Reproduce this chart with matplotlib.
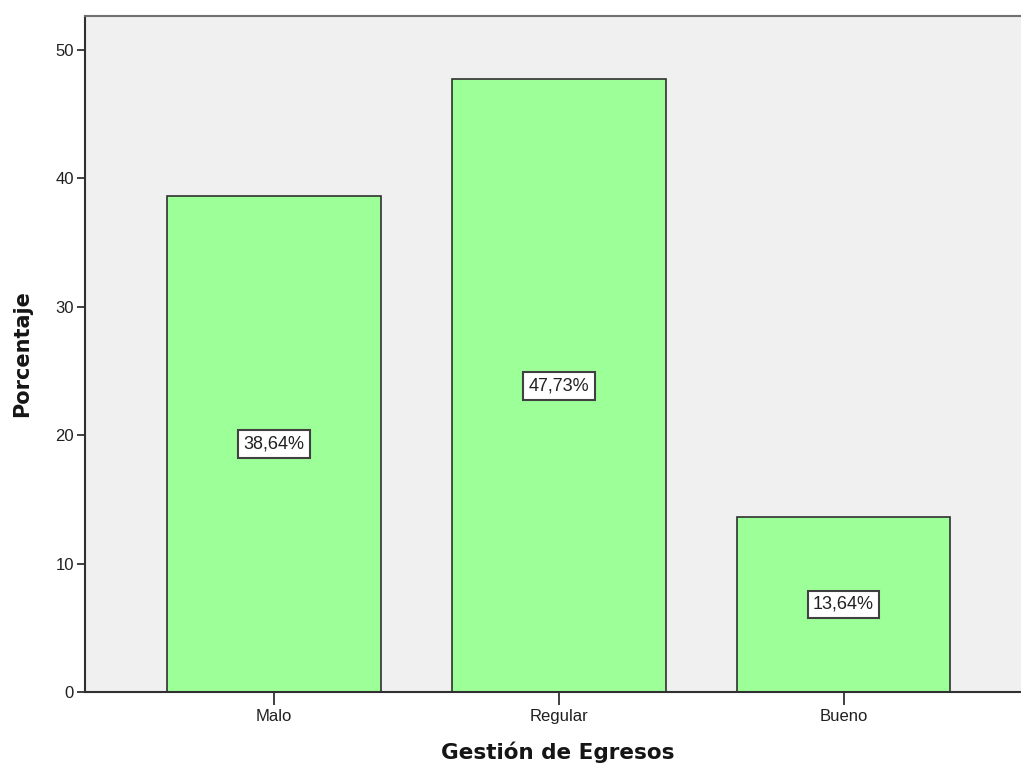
import matplotlib.pyplot as plt

# Gestión de Egresos - distribución porcentual
categorias = ["Malo", "Regular", "Bueno"]
porcentajes = [38.64, 47.73, 13.64]
etiquetas = ["38,64%", "47,73%", "13,64%"]

plt.rcParams['font.family'] = ['Liberation Sans', 'DejaVu Sans']

fig = plt.figure(figsize=(10.21, 7.67), dpi=100)
ax = fig.add_axes([85 / 1021, 75 / 767, 945 / 1021, 676 / 767])
ax.set_facecolor('#f0f0f0')

x = range(len(categorias))
ax.bar(x, porcentajes, width=0.75, color='#9cff98', edgecolor='#303030', linewidth=1.2, zorder=2)

# etiqueta de cada barra a media altura
for xi, val, txt in zip(x, porcentajes, etiquetas):
    ax.text(xi, val / 2, txt, ha='center', va='center', fontsize=13, color='#202020', zorder=3,
            bbox=dict(boxstyle='square,pad=0.3', facecolor='white', edgecolor='#404040', linewidth=1.5))

ax.set_xlim(-0.664, 2.655)
ax.set_ylim(0, 52.65)
ax.set_yticks([0, 10, 20, 30, 40, 50])
ax.set_xticks(list(x))
ax.set_xticklabels(categorias)
ax.tick_params(axis='y', direction='out', length=6, width=1.2, labelsize=12, colors='#202020', pad=2)
ax.tick_params(axis='x', direction='out', length=9, width=1.2, labelsize=12, colors='#202020', pad=3)

for side in ['left', 'bottom']:
    ax.spines[side].set_color('#303030')
    ax.spines[side].set_linewidth(1.5)
ax.spines['top'].set_color('#707070')
ax.spines['top'].set_linewidth(1.5)
ax.spines['right'].set_visible(False)

ax.set_xlabel("Gestión de Egresos", fontsize=15.5, fontweight='bold', family='DejaVu Sans',
              labelpad=13, color='#151515')
ax.set_ylabel("Porcentaje", fontsize=15, fontweight='bold', family='DejaVu Sans',
              labelpad=17, color='#151515')

fig.savefig("out.png", dpi=100)
